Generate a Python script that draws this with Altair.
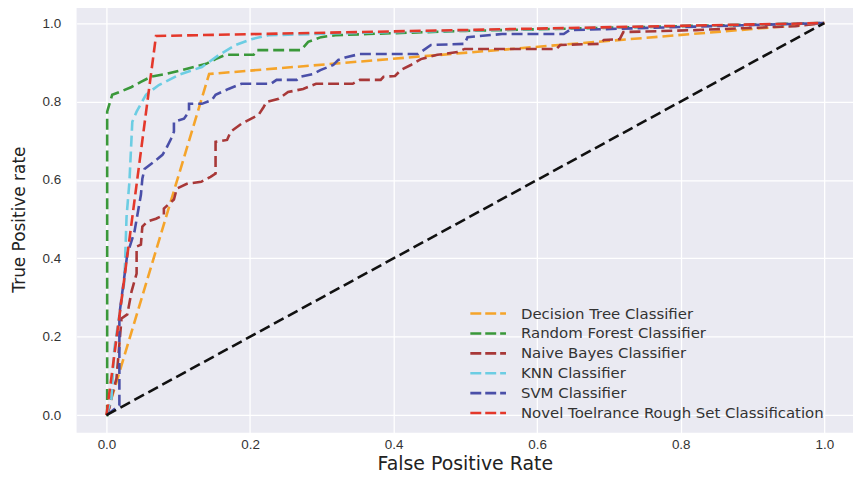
import altair as alt
import pandas as pd

models = ["Decision Tree Classifier", "Random Forest Classifier", "Naive Bayes Classifier",
          "KNN Classifier", "SVM Classifier", "Novel Toelrance Rough Set Classification"]
colors = ["#F5A42A", "#3A983A", "#A83838", "#6CCDE3", "#4A4FA8", "#E4382B"]

fpr_dt = [0.0, 0.143, 1.0]
tpr_dt = [0.0, 0.870, 1.0]

fpr_rf = [0.0, 0.001, 0.001, 0.008, 0.018, 0.035, 0.048, 0.062, 0.083, 0.111, 0.139, 0.152,
          0.166, 0.205, 0.209, 0.271, 0.281, 0.299, 0.319, 0.364, 0.5, 1.0]
tpr_rf = [0.0, 0.0, 0.774, 0.817, 0.824, 0.837, 0.850, 0.863, 0.870, 0.883, 0.896, 0.908,
          0.919, 0.919, 0.931, 0.931, 0.952, 0.964, 0.969, 0.972, 0.980, 1.0]

fpr_nb = [0.0, 0.004, 0.008, 0.014, 0.018, 0.021, 0.029, 0.035, 0.042, 0.042, 0.042, 0.048,
          0.050, 0.057, 0.069, 0.080, 0.080, 0.094, 0.098, 0.112, 0.132, 0.145, 0.152, 0.152,
          0.168, 0.173, 0.188, 0.212, 0.219, 0.223, 0.240, 0.253, 0.274, 0.292, 0.343, 0.353,
          0.382, 0.386, 0.402, 0.410, 0.424, 0.438, 0.461, 0.489, 0.499, 0.627, 0.632, 0.687,
          0.693, 0.715, 0.720, 0.821, 0.960, 1.0]
tpr_nb = [0.0, 0.018, 0.053, 0.094, 0.181, 0.247, 0.257, 0.316, 0.361, 0.399, 0.430, 0.435,
          0.481, 0.494, 0.501, 0.511, 0.527, 0.550, 0.578, 0.590, 0.595, 0.608, 0.616, 0.697,
          0.702, 0.723, 0.743, 0.766, 0.786, 0.799, 0.807, 0.824, 0.832, 0.845, 0.845, 0.855,
          0.855, 0.863, 0.865, 0.880, 0.893, 0.908, 0.919, 0.926, 0.934, 0.934, 0.944, 0.947,
          0.957, 0.959, 0.977, 0.982, 0.992, 1.0]

fpr_knn = [0.0, 0.007, 0.011, 0.025, 0.028, 0.032, 0.036, 0.042, 0.055, 0.073, 0.101, 0.133,
           0.157, 0.180, 0.202, 0.226, 0.35, 1.0]
tpr_knn = [0.0, 0.043, 0.170, 0.341, 0.506, 0.595, 0.748, 0.774, 0.817, 0.842, 0.868, 0.888,
           0.919, 0.944, 0.959, 0.969, 0.975, 1.0]

fpr_svm = [0.0, 0.018, 0.018, 0.029, 0.039, 0.048, 0.050, 0.053, 0.066, 0.078, 0.083, 0.090,
           0.094, 0.094, 0.108, 0.115, 0.115, 0.133, 0.147, 0.152, 0.170, 0.188, 0.229, 0.237,
           0.265, 0.270, 0.288, 0.298, 0.316, 0.323, 0.334, 0.353, 0.434, 0.452, 0.499, 0.503,
           0.551, 0.637, 0.645, 1.0]
tpr_svm = [0.0, 0.025, 0.257, 0.410, 0.468, 0.562, 0.603, 0.628, 0.646, 0.664, 0.679, 0.705,
           0.723, 0.748, 0.756, 0.774, 0.794, 0.794, 0.804, 0.817, 0.832, 0.845, 0.845, 0.855,
           0.855, 0.863, 0.870, 0.880, 0.893, 0.906, 0.913, 0.921, 0.921, 0.944, 0.947, 0.964,
           0.972, 0.972, 0.982, 1.0]

fpr_novel = [0.0, 0.069, 1.0]
tpr_novel = [0.0, 0.967, 1.0]

fpr_diag = [0.0, 1.0]
tpr_diag = [0.0, 1.0]

ticks = [0.0, 0.2, 0.4, 0.6, 0.8, 1.0]

series = [(fpr_dt, tpr_dt), (fpr_rf, tpr_rf), (fpr_nb, tpr_nb),
          (fpr_knn, tpr_knn), (fpr_svm, tpr_svm), (fpr_novel, tpr_novel)]
rows = []
for name, (fx, ty) in zip(models, series):
    for i, (a, b) in enumerate(zip(fx, ty)):
        rows.append({"model": name, "fpr": a, "tpr": b, "i": i})
df = pd.DataFrame(rows)
diag = pd.DataFrame({"fpr": fpr_diag, "tpr": tpr_diag, "i": [0, 1]})

xscale = alt.Scale(domain=[-0.0416, 1.040], nice=False, zero=False)
yscale = alt.Scale(domain=[-0.045, 1.045], nice=False, zero=False)

xaxis = alt.Axis(values=ticks, format=".1f", title="False Positive Rate", grid=True,
                 domain=False, ticks=False, labelPadding=5, titlePadding=3,
                 titleFontSize=19)
yaxis = alt.Axis(values=ticks, format=".1f", title="True Positive rate", grid=True,
                 domain=False, ticks=False, labelPadding=16, titlePadding=14)

diag_layer = alt.Chart(diag).mark_line(color="#111111", strokeDash=[11, 5], strokeWidth=2.6).encode(
    x=alt.X("fpr:Q", scale=xscale, axis=xaxis),
    y=alt.Y("tpr:Q", scale=yscale, axis=yaxis),
    order="i:Q",
)

lines = alt.Chart(df).mark_line(strokeDash=[11, 5], strokeWidth=2.6).encode(
    x=alt.X("fpr:Q", scale=xscale, axis=xaxis),
    y=alt.Y("tpr:Q", scale=yscale, axis=yaxis),
    color=alt.Color("model:N", scale=alt.Scale(domain=models, range=colors),
                    sort=models,
                    legend=alt.Legend(title=None, orient="none", legendX=402, legendY=298,
                                      symbolType="M-1.75,0H1.75", symbolStrokeWidth=2.6,
                                      symbolDash=[11, 4], symbolSize=420,
                                      labelFontSize=15, labelColor="#333333",
                                      labelFont="DejaVu Sans", rowPadding=-2,
                                      labelOffset=21, labelLimit=0)),
    order="i:Q",
)

chart = alt.layer(lines, diag_layer).properties(
    width=781, height=430,
    autosize=alt.AutoSizeParams(type="none"),
    padding={"left": 69, "top": -4, "right": 0, "bottom": 40},
).configure_view(
    fill="#EAEAF2", stroke=None
).configure_axis(
    gridColor="#FFFFFF", gridWidth=1.3, labelFont="Liberation Sans", titleFont="DejaVu Sans",
    labelFontSize=13.5, titleFontSize=17, labelColor="#333333", titleColor="#222222",
    titleFontWeight="normal"
)

chart.save("out.html", embed_options={"renderer": "svg", "actions": False})
